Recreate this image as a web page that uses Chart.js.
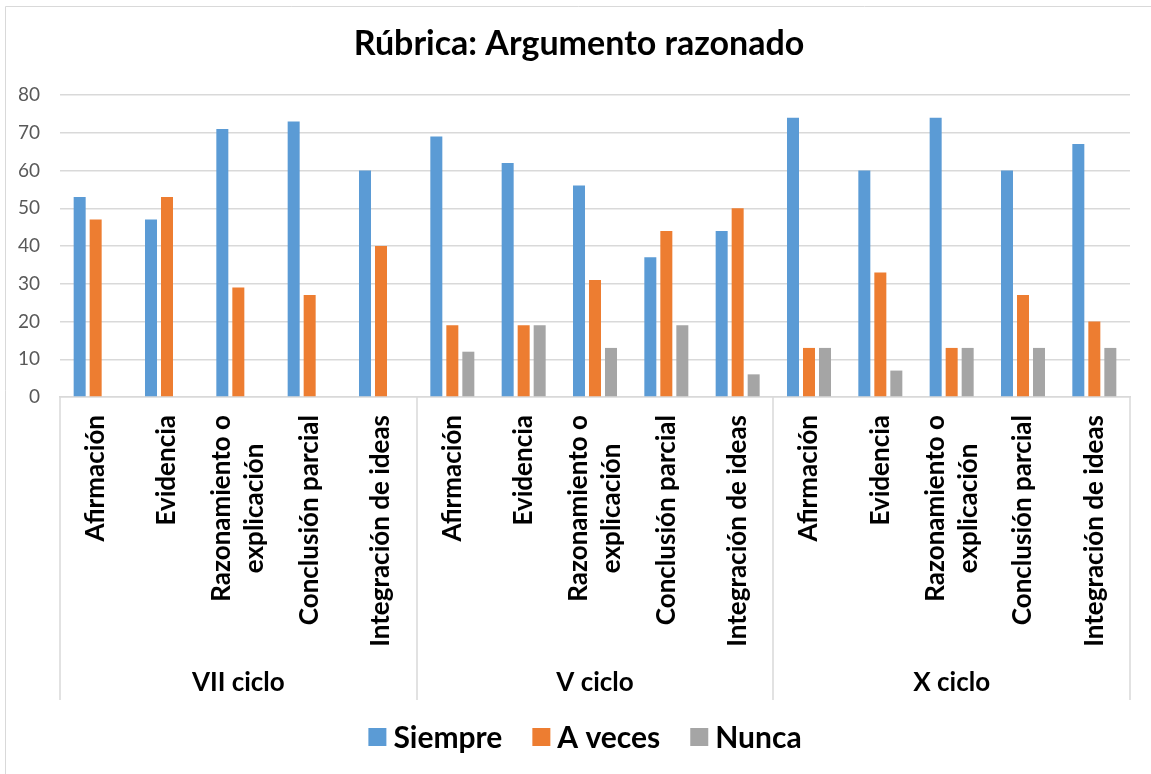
<!DOCTYPE html>
<html>
<head>
<meta charset="utf-8">
<script src="https://cdn.jsdelivr.net/npm/chart.js@4.4.0/dist/chart.umd.min.js"></script>
<style>
  body { margin: 0; background: #fff; }
  #wrap { width: 1151px; height: 774px; }
</style>
</head>
<body>
<div id="wrap"><canvas id="myChart" width="1151" height="774"></canvas></div>
<script>
// datos
const titulo = "Rúbrica: Argumento razonado";
const ciclos = ["VII ciclo", "V ciclo", "X ciclo"];
const criterios = [["Afirmación"], ["Evidencia"], ["Razonamiento o", "explicación"], ["Conclusión parcial"], ["Integración de ideas"]];
const siempre = [53, 47, 71, 73, 60, 69, 62, 56, 37, 44, 74, 60, 74, 60, 67];
const aVeces  = [47, 53, 29, 27, 40, 19, 19, 31, 44, 50, 13, 33, 13, 27, 20];
const nunca   = [null, null, null, null, null, 12, 19, 13, 19, 6, 13, 7, 13, 13, 13];
const yMax = 80;
const yStep = 10;

const FONT = "Lato, 'Open Sans', sans-serif";
const GRID = "#d9d9d9";

const labels = [];
ciclos.forEach(c => criterios.forEach(k => labels.push(k)));

// titulo, ejes de categorias en dos niveles y leyenda, al estilo Excel
const excelAxis = {
  id: 'excelAxis',
  afterDraw(chart) {
    const ctx = chart.ctx;
    const xs = chart.scales.x;
    const top = chart.chartArea.bottom;
    const n = criterios.length;

    ctx.save();
    // marco
    ctx.strokeStyle = GRID;
    ctx.lineWidth = 1;
    ctx.beginPath();
    ctx.moveTo(5.5, 774);
    ctx.lineTo(5.5, 6.5);
    ctx.lineTo(1151, 6.5);
    ctx.stroke();

    // titulo
    ctx.fillStyle = "#000";
    ctx.font = "bold 34px " + FONT;
    ctx.textAlign = "center";
    ctx.textBaseline = "middle";
    ctx.fillText(titulo, 579, 44);

    // separadores de grupos
    ctx.lineWidth = 1.5;
    for (let g = 0; g <= ciclos.length; g++) {
      const x = Math.round(xs.getPixelForValue(g * n - 0.5));
      ctx.beginPath();
      ctx.moveTo(x, top);
      ctx.lineTo(x, 700);
      ctx.stroke();
    }

    // etiquetas giradas
    ctx.font = "bold 26px " + FONT;
    labels.forEach((lines, i) => {
      const cx = xs.getPixelForValue(i);
      const w = Math.max(...lines.map(l => ctx.measureText(l).width));
      const cy = top + 18 + w / 2;
      ctx.save();
      ctx.translate(cx, cy);
      ctx.rotate(-Math.PI / 2);
      lines.forEach((l, k) => {
        ctx.fillText(l, 0, (k - (lines.length - 1) / 2) * 33);
      });
      ctx.restore();
    });

    // etiquetas de ciclo
    ciclos.forEach((c, g) => {
      const x0 = xs.getPixelForValue(g * n - 0.5);
      const x1 = xs.getPixelForValue(g * n + n - 0.5);
      ctx.fillText(c, (x0 + x1) / 2, 683);
    });

    // leyenda
    ctx.font = "bold 30px " + FONT;
    ctx.textAlign = "left";
    const items = chart.data.datasets.map(d => ({ text: d.label, color: d.backgroundColor, w: ctx.measureText(d.label).width }));
    const box = 18, gap = 7, space = 30;
    let total = items.reduce((s, it) => s + box + gap + it.w, 0) + space * (items.length - 1);
    let x = 585 - total / 2;
    const y = 737;
    items.forEach(it => {
      ctx.fillStyle = it.color;
      ctx.fillRect(x, y - box / 2, box, box);
      ctx.fillStyle = "#000";
      ctx.fillText(it.text, x + box + gap, y + 1);
      x += box + gap + it.w + space;
    });
    ctx.restore();
  }
};

new Chart(document.getElementById("myChart"), {
  type: 'bar',
  data: {
    labels: labels,
    datasets: [
      { label: "Siempre", data: siempre, backgroundColor: "#5b9bd5" },
      { label: "A veces", data: aVeces, backgroundColor: "#ed7d31" },
      { label: "Nunca", data: nunca, backgroundColor: "#a5a5a5" }
    ]
  },
  options: {
    responsive: false,
    animation: false,
    devicePixelRatio: 1,
    layout: { padding: { left: 0, right: 21, top: 95, bottom: 0 } },
    datasets: { bar: { categoryPercentage: 0.673, barPercentage: 0.75 } },
    plugins: {
      legend: { display: false },
      tooltip: { enabled: false },
      title: { display: false }
    },
    scales: {
      x: {
        grid: { display: false },
        border: { color: GRID, width: 1.5 },
        ticks: { display: false },
        afterFit(s) { s.height = 774 - 397; }
      },
      y: {
        min: 0,
        max: yMax,
        ticks: { stepSize: yStep, color: "#595959", font: { family: FONT, size: 19 }, padding: 20 },
        grid: { color: GRID, lineWidth: 1.5, drawTicks: false },
        border: { display: false },
        afterFit(s) { s.width = 60; }
      }
    }
  },
  plugins: [excelAxis]
});
</script>
</body>
</html>
